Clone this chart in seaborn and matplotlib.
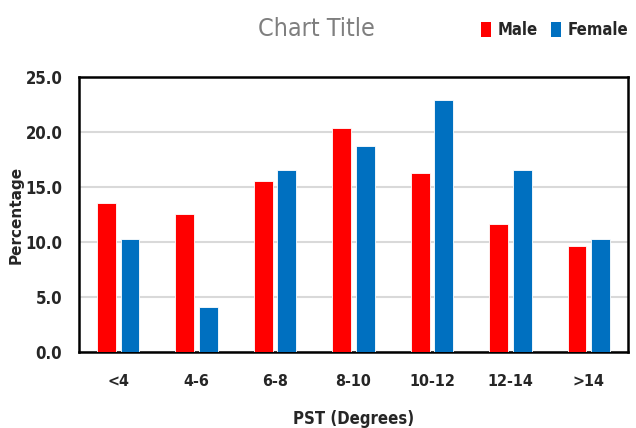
import matplotlib
matplotlib.use("Agg")
import pandas as pd
import seaborn as sns
from matplotlib import pyplot as plt
from matplotlib.patches import Patch

# data
categories = ["<4", "4-6", "6-8", "8-10", "10-12", "12-14", ">14"]
male = [13.5, 12.5, 15.5, 20.4, 16.3, 11.6, 9.6]
female = [10.3, 4.1, 16.5, 18.7, 22.9, 16.5, 10.3]
groups = ["Male", "Female"]
colors = {"Male": "#FF0000", "Female": "#0070C0"}

df = pd.DataFrame({
    "PST": categories * 2,
    "Percentage": male + female,
    "Sex": ["Male"] * len(male) + ["Female"] * len(female),
})

sns.set_style("white")
plt.rcParams["font.family"] = ["DejaVu Sans"]
plt.rcParams["font.stretch"] = "condensed"

fig = plt.figure(figsize=(6.36, 4.28), dpi=100)
ax = fig.add_axes([0.1242, 0.1776, 0.8632, 0.6425])

sns.barplot(data=df, x="PST", y="Percentage", hue="Sex", hue_order=groups,
            order=categories, palette=colors, saturation=1, width=0.6, gap=0.2,
            edgecolor="white", linewidth=0.6, legend=False, ax=ax, zorder=3)

ax.set_ylim(0, 25)
ax.set_yticks([0, 5, 10, 15, 20, 25])
ax.set_yticklabels([f"{v:.1f}" for v in [0, 5, 10, 15, 20, 25]],
                   fontsize=12, fontweight="bold", color="#262626")
ax.set_xticklabels(categories, fontsize=11.5, fontweight="bold", color="#262626")
ax.tick_params(axis="both", length=0)
ax.tick_params(axis="y", pad=12)
ax.tick_params(axis="x", pad=16)
ax.yaxis.grid(True, color="#D9D9D9", linewidth=1.5, zorder=0)
ax.set_axisbelow(True)
for s in ax.spines.values():
    s.set_visible(True)
    s.set_color("black")
    s.set_linewidth(1.8)

ax.set_ylabel("Percentage", fontsize=11, fontweight="heavy",
              family=["DejaVu Sans"], stretch="normal", labelpad=1)
ax.set_xlabel("PST (Degrees)", fontsize=12, fontweight="bold", color="#262626",
              labelpad=15)

fig.text(0.497, 0.932, "Chart Title", ha="center", va="center",
         fontsize=18, color="#7F7F7F")

handles = [Patch(facecolor=colors[g], edgecolor="none") for g in groups]
fig.legend(handles, groups, loc="center right", bbox_to_anchor=(1.012, 0.93),
           ncol=2, frameon=False, handlelength=0.6, handleheight=1.0,
           handletextpad=0.4, columnspacing=0.8,
           prop={"size": 12, "weight": "bold", "stretch": "condensed"})

fig.savefig("out.png", dpi=100)
